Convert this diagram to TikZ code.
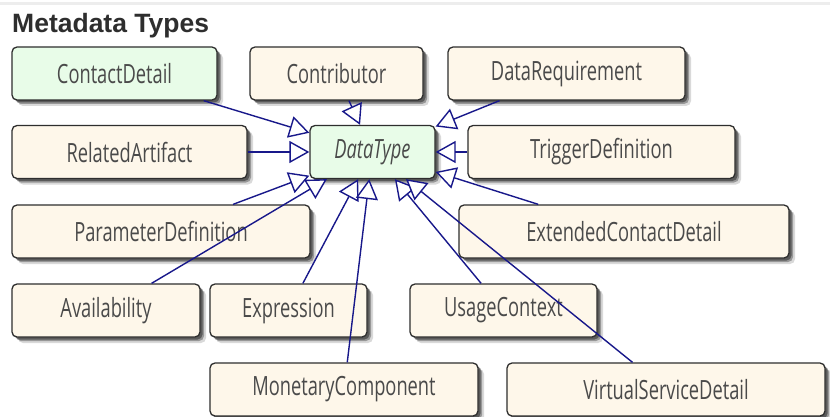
\documentclass[tikz,border=0pt]{standalone}
\usepackage{fontspec}
\usetikzlibrary{arrows.meta,shadows}
\newfontfamily\boxfont[FakeStretch=0.69]{Open Sans}
\newfontfamily\titlefont{Liberation Sans}
\definecolor{cream}{HTML}{FEF7EA}
\definecolor{mint}{HTML}{E8FCE8}
\definecolor{linkblue}{HTML}{18188A}
\definecolor{textgray}{HTML}{4A4A4A}
\definecolor{bordergray}{HTML}{2E2E2E}
\tikzset{
  box/.style={draw=bordergray, line width=1.3pt, rounded corners=5pt, fill=cream,
    minimum height=53pt, inner sep=0pt, text=textgray,
    font=\boxfont\fontsize{26.5}{30}\selectfont,
    drop shadow={shadow xshift=6pt, shadow yshift=-6pt, fill=black, opacity=0.15},
    drop shadow={shadow xshift=4pt, shadow yshift=-4pt, fill=black, opacity=0.3},
    drop shadow={shadow xshift=2.5pt, shadow yshift=-2.5pt, fill=black, opacity=0.4}},
  greenbox/.style={box, fill=mint},
  gen/.style={draw=linkblue, line width=1.4pt, -{Triangle[length=20pt,width=22pt,fill=white,line width=1.4pt]}}
}
\begin{document}
\begin{tikzpicture}[x=1pt,y=-1pt]
\useasboundingbox (0,0) rectangle (830,417);
\clip (0,0) rectangle (830,417);
\fill[white] (0,0) rectangle (830,417);
\fill[black!7] (0,2) rectangle (830,5);
\node[anchor=base west, text=black!82, font=\titlefont\bfseries\fontsize{26.5}{30}\selectfont, inner sep=0pt] (title) at (12,33) {Metadata Types};
% row 1
\node[greenbox, minimum width=205pt] (cd) at (114.5,73.5) {ContactDetail};
\node[box, minimum width=173pt] (contrib) at (336.5,73.5) {Contributor};
\node[box, minimum width=237pt] (dreq) at (566.5,73.5) {DataRequirement};
% row 2
\node[box, minimum width=235pt] (ra) at (129.5,152) {RelatedArtifact};
\node[greenbox, minimum width=125pt] (dt) at (372.5,152) {\itshape DataType};
\node[box, minimum width=267pt] (td) at (601.5,152) {TriggerDefinition};
% row 3
\node[box, minimum width=298pt] (pd) at (161,231.5) {ParameterDefinition};
\node[box, minimum width=330pt] (ecd) at (624,231.5) {ExtendedContactDetail};
% row 4
\node[box, minimum width=188pt] (av) at (106,310.5) {Availability};
\node[box, minimum width=157pt] (ex) at (288.5,310.5) {Expression};
\node[box, minimum width=187pt] (uc) at (503.5,310.5) {UsageContext};
% row 5
\node[box, minimum width=268pt] (mc) at (344,389.5) {MonetaryComponent};
\node[box, minimum width=318pt] (vsd) at (666,389.5) {VirtualServiceDetail};
% connectors
\foreach \s in {cd,contrib,dreq,ra,td,pd,ecd,av,ex,uc,mc,vsd}
  \draw[gen] (\s) -- (dt);
\end{tikzpicture}
\end{document}
